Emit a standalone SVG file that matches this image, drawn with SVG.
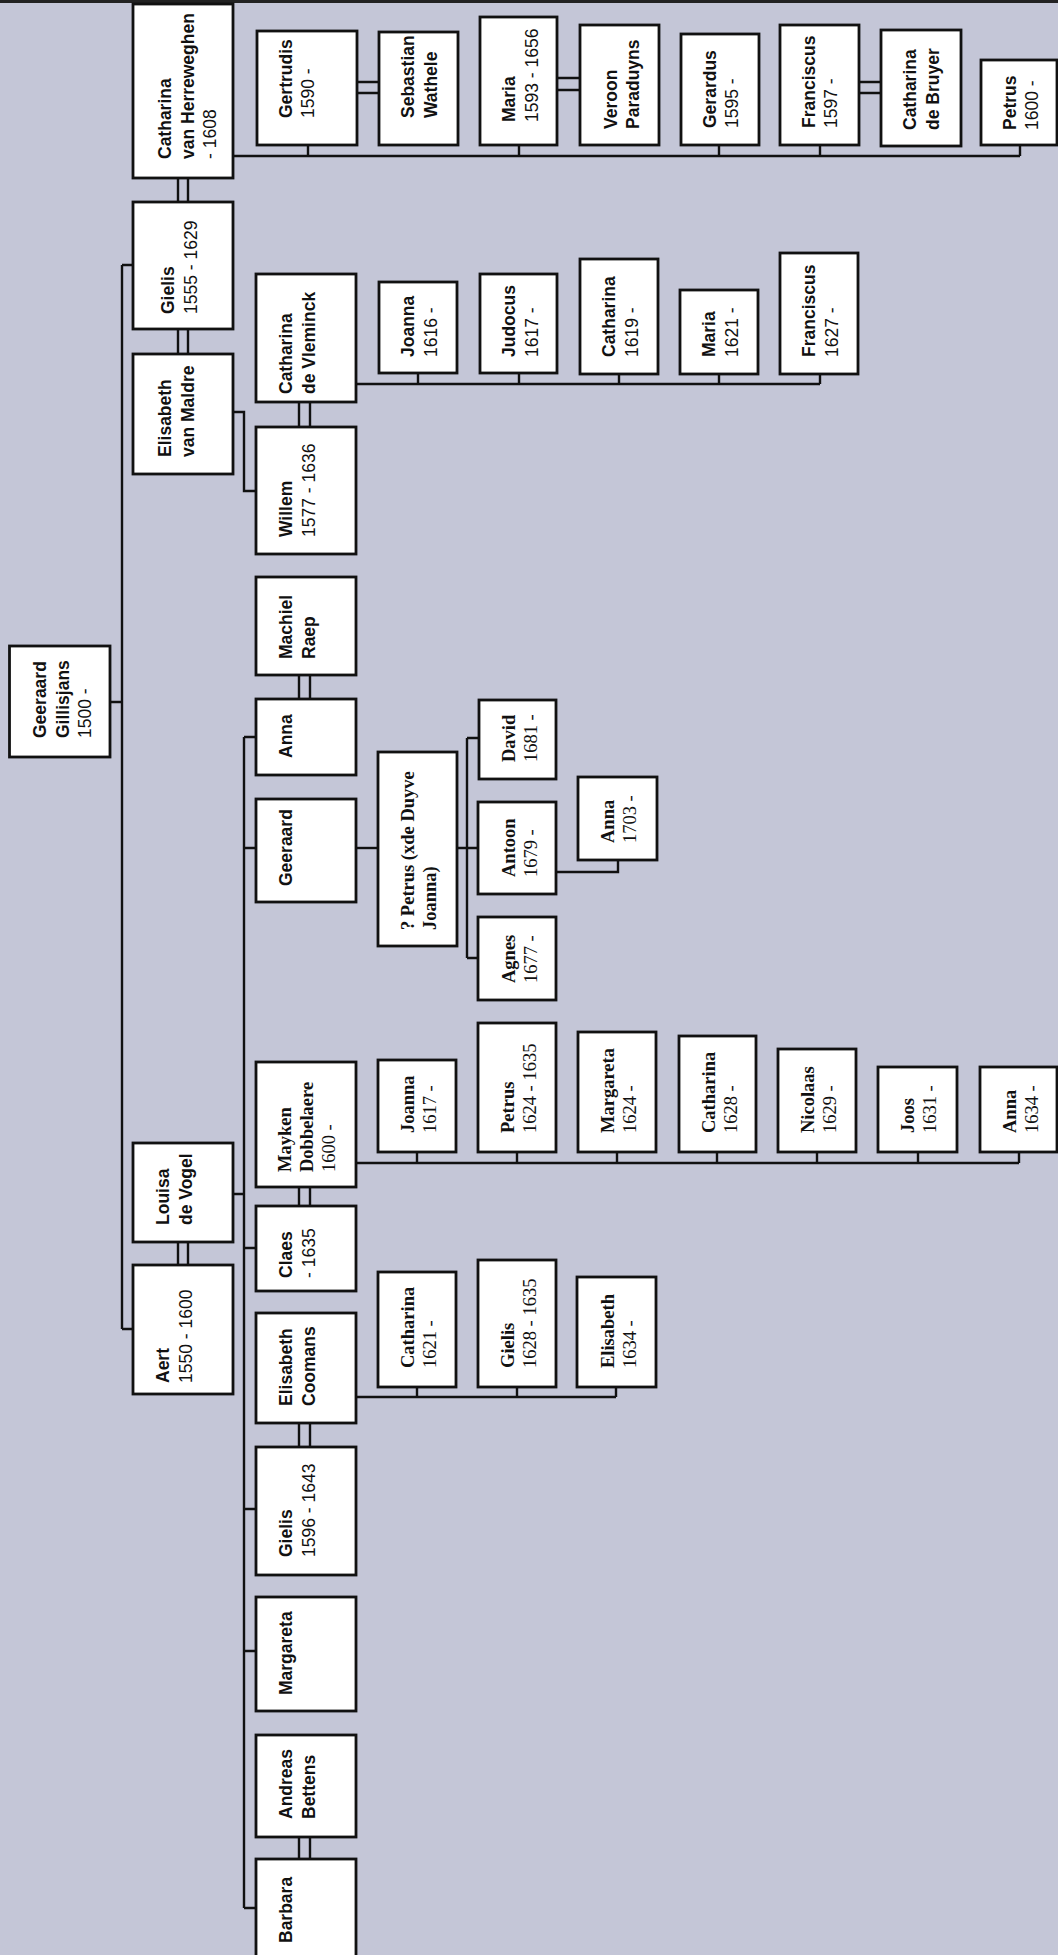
<svg xmlns="http://www.w3.org/2000/svg" width="1058" height="1955" viewBox="0 0 1058 1955">
<style>
.bg{fill:#c4c6d7}
.box{fill:#fff;stroke:#111;stroke-width:2.8}
.ln{stroke:#111;stroke-width:2.4;fill:none}
.t{font-family:"Liberation Sans",Arial,sans-serif;font-size:17.5px;fill:#111}
.s{font-family:"Liberation Serif","Times New Roman",serif;font-size:18.5px;fill:#111}
.b{font-weight:bold}
</style>
<rect class="bg" x="0" y="0" width="1058" height="1955"/>
<rect x="0" y="0" width="1058" height="3" fill="#222"/>

<g id="connectors">
  <!-- trunk from Geeraard Gillisjans -->
  <path class="ln" d="M110,702 H122 M122,265 V1329 M122,265 H133 M122,1329 H133"/>
  <!-- marriages gen2 -->
  <path class="ln" d="M178,178 V202 M188,178 V202"/>
  <path class="ln" d="M178,329 V354 M188,329 V354"/>
  <path class="ln" d="M178,1242 V1265 M188,1242 V1265"/>
  <!-- Catharina vH + Gielis children -->
  <path class="ln" d="M233,156 H1020 M308,145 V156 M519,145 V156 M719,145 V156 M820,145 V156 M1020,145 V156"/>
  <path class="ln" d="M357,82 H379 M357,93 H379"/>
  <path class="ln" d="M557,78 H580 M557,90 H580"/>
  <path class="ln" d="M859,82 H881 M859,93 H881"/>
  <!-- Gielis + Elisabeth van Maldre -> Willem -->
  <path class="ln" d="M233,412 H244 V491 H256"/>
  <path class="ln" d="M299,402 V427 M310,402 V427"/>
  <!-- Willem + Catharina de Vleminck children -->
  <path class="ln" d="M356,384 H820 M418,373 V384 M519,373 V384 M619,374 V384 M719,374 V384 M820,374 V384"/>
  <!-- Aert + Louisa children -->
  <path class="ln" d="M233,1194 H244 M244,737 V1908 M244,737 H256 M244,848 H256 M244,1248 H256 M244,1509 H256 M244,1651 H256 M244,1908 H256"/>
  <path class="ln" d="M299,675 V699 M310,675 V699"/>
  <path class="ln" d="M299,1187 V1206 M310,1187 V1206"/>
  <path class="ln" d="M299,1423 V1447 M310,1423 V1447"/>
  <path class="ln" d="M299,1837 V1859 M310,1837 V1859"/>
  <!-- Geeraard -> Petrus -> children -->
  <path class="ln" d="M356,848 H378"/>
  <path class="ln" d="M457,848 H478 M467,738 V958 M467,738 H479 M467,958 H478"/>
  <path class="ln" d="M556,872 H618 V860"/>
  <!-- Mayken + Claes children -->
  <path class="ln" d="M356,1163 H1019 M417,1152 V1163 M517,1152 V1163 M617,1152 V1163 M717,1152 V1163 M817,1152 V1163 M918,1152 V1163 M1019,1152 V1163"/>
  <!-- Elisabeth Coomans + Gielis children -->
  <path class="ln" d="M356,1397 H616 M417,1387 V1397 M517,1387 V1397 M616,1387 V1397"/>
</g>

<g id="geeraard-gillisjans"><rect class="box" x="9.5" y="646" width="100.5" height="111"/>
<text class="t" transform="translate(46,738) rotate(-90)"><tspan class="b" x="0" y="0">Geeraard</tspan><tspan class="b" x="0" dy="22.5">Gillisjans</tspan><tspan x="0" dy="22.5">1500 -</tspan></text></g>

<g id="catharina-van-herreweghen"><rect class="box" x="133" y="4" width="100" height="174"/>
<text class="t" transform="translate(171,159) rotate(-90)"><tspan class="b" x="0" y="0">Catharina</tspan><tspan class="b" x="0" dy="22.5">van Herreweghen</tspan><tspan x="0" dy="22.5">- 1608</tspan></text></g>

<g id="gielis-1555"><rect class="box" x="133" y="202" width="100" height="127"/>
<text class="t" transform="translate(174,314) rotate(-90)"><tspan class="b" x="0" y="0">Gielis</tspan><tspan x="0" dy="23">1555 - 1629</tspan></text></g>

<g id="elisabeth-van-maldre"><rect class="box" x="133" y="354" width="100" height="120"/>
<text class="t" transform="translate(171,457) rotate(-90)"><tspan class="b" x="0" y="0">Elisabeth</tspan><tspan class="b" x="0" dy="22.5">van Maldre</tspan></text></g>

<g id="louisa-de-vogel"><rect class="box" x="133" y="1143" width="100" height="99"/>
<text class="t" transform="translate(169,1225) rotate(-90)"><tspan class="b" x="0" y="0">Louisa</tspan><tspan class="b" x="0" dy="22.5">de Vogel</tspan></text></g>

<g id="aert"><rect class="box" x="133" y="1265" width="100" height="129"/>
<text class="t" transform="translate(169,1383) rotate(-90)"><tspan class="b" x="0" y="0">Aert</tspan><tspan x="0" dy="22.5">1550 - 1600</tspan></text></g>

<g id="catharina-de-vleminck"><rect class="box" x="256" y="274" width="100" height="128"/>
<text class="t" transform="translate(292,394) rotate(-90)"><tspan class="b" x="0" y="0">Catharina</tspan><tspan class="b" x="0" dy="22.5">de Vleminck</tspan></text></g>

<g id="willem"><rect class="box" x="256" y="427" width="100" height="127"/>
<text class="t" transform="translate(292,537) rotate(-90)"><tspan class="b" x="0" y="0">Willem</tspan><tspan x="0" dy="23">1577 - 1636</tspan></text></g>

<g id="machiel-raep"><rect class="box" x="256" y="577" width="100" height="98"/>
<text class="t" transform="translate(292,659) rotate(-90)"><tspan class="b" x="0" y="0">Machiel</tspan><tspan class="b" x="0" dy="22.5">Raep</tspan></text></g>

<g id="anna"><rect class="box" x="256" y="699" width="100" height="76"/>
<text class="t b" transform="translate(292,758) rotate(-90)">Anna</text></g>

<g id="geeraard"><rect class="box" x="256" y="799" width="100" height="103"/>
<text class="t b" transform="translate(292,886) rotate(-90)">Geeraard</text></g>

<g id="mayken-dobbelaere"><rect class="box" x="256" y="1062" width="100" height="125"/>
<text class="s" transform="translate(291,1172) rotate(-90)"><tspan class="b" x="0" y="0">Mayken</tspan><tspan class="b" x="0" dy="22">Dobbelaere</tspan><tspan x="0" dy="22">1600 -</tspan></text></g>

<g id="claes"><rect class="box" x="256" y="1206" width="100" height="85"/>
<text class="t" transform="translate(292,1278) rotate(-90)"><tspan class="b" x="0" y="0">Claes</tspan><tspan x="0" dy="22.5">- 1635</tspan></text></g>

<g id="elisabeth-coomans"><rect class="box" x="256" y="1313" width="100" height="110"/>
<text class="t" transform="translate(292,1406) rotate(-90)"><tspan class="b" x="0" y="0">Elisabeth</tspan><tspan class="b" x="0" dy="22.5">Coomans</tspan></text></g>

<g id="gielis-1596"><rect class="box" x="256" y="1447" width="100" height="128"/>
<text class="t" transform="translate(292,1557) rotate(-90)"><tspan class="b" x="0" y="0">Gielis</tspan><tspan x="0" dy="22.5">1596 - 1643</tspan></text></g>

<g id="margareta"><rect class="box" x="256" y="1597" width="100" height="114"/>
<text class="t b" transform="translate(292,1695) rotate(-90)">Margareta</text></g>

<g id="andreas-bettens"><rect class="box" x="256" y="1735" width="100" height="102"/>
<text class="t" transform="translate(292,1819) rotate(-90)"><tspan class="b" x="0" y="0">Andreas</tspan><tspan class="b" x="0" dy="22.5">Bettens</tspan></text></g>

<g id="barbara"><rect class="box" x="256" y="1859" width="100" height="106"/>
<text class="t b" transform="translate(292,1943) rotate(-90)">Barbara</text></g>

<g id="gertrudis"><rect class="box" x="257" y="31" width="100" height="114"/>
<text class="t" transform="translate(292,118) rotate(-90)"><tspan class="b" x="0" y="0">Gertrudis</tspan><tspan x="0" dy="22">1590 -</tspan></text></g>

<g id="sebastian-wathele"><rect class="box" x="379" y="32" width="79" height="113"/>
<text class="t" transform="translate(414,118) rotate(-90)"><tspan class="b" x="0" y="0">Sebastian</tspan><tspan class="b" x="0" dy="22.5">Wathele</tspan></text></g>

<g id="maria-1593"><rect class="box" x="480" y="17" width="77" height="128"/>
<text class="t" transform="translate(515,122) rotate(-90)"><tspan class="b" x="0" y="0">Maria</tspan><tspan x="0" dy="22.5">1593 - 1656</tspan></text></g>

<g id="veroon-paraduyns"><rect class="box" x="580" y="25" width="79" height="120"/>
<text class="t" transform="translate(617,129) rotate(-90)"><tspan class="b" x="0" y="0">Veroon</tspan><tspan class="b" x="0" dy="22">Paraduyns</tspan></text></g>

<g id="gerardus"><rect class="box" x="681" y="34" width="78" height="111"/>
<text class="t" transform="translate(716,128) rotate(-90)"><tspan class="b" x="0" y="0">Gerardus</tspan><tspan x="0" dy="22">1595 -</tspan></text></g>

<g id="franciscus-1597"><rect class="box" x="780" y="25" width="79" height="120"/>
<text class="t" transform="translate(815,128) rotate(-90)"><tspan class="b" x="0" y="0">Franciscus</tspan><tspan x="0" dy="22">1597 -</tspan></text></g>

<g id="catharina-de-bruyer"><rect class="box" x="881" y="30" width="80" height="116"/>
<text class="t" transform="translate(916,130) rotate(-90)"><tspan class="b" x="0" y="0">Catharina</tspan><tspan class="b" x="0" dy="22.5">de Bruyer</tspan></text></g>

<g id="petrus-1600"><rect class="box" x="981" y="60" width="76" height="85"/>
<text class="t" transform="translate(1016,130) rotate(-90)"><tspan class="b" x="0" y="0">Petrus</tspan><tspan x="0" dy="22">1600 -</tspan></text></g>

<g id="joanna-1616"><rect class="box" x="379" y="282" width="78" height="91"/>
<text class="t" transform="translate(414,357) rotate(-90)"><tspan class="b" x="0" y="0">Joanna</tspan><tspan x="0" dy="22.5">1616 -</tspan></text></g>

<g id="judocus"><rect class="box" x="480" y="274" width="77" height="99"/>
<text class="t" transform="translate(515,357) rotate(-90)"><tspan class="b" x="0" y="0">Judocus</tspan><tspan x="0" dy="22.5">1617 -</tspan></text></g>

<g id="catharina-1619"><rect class="box" x="580" y="259" width="78" height="115"/>
<text class="t" transform="translate(615,357) rotate(-90)"><tspan class="b" x="0" y="0">Catharina</tspan><tspan x="0" dy="22.5">1619 -</tspan></text></g>

<g id="maria-1621"><rect class="box" x="680" y="290" width="78" height="84"/>
<text class="t" transform="translate(715,357) rotate(-90)"><tspan class="b" x="0" y="0">Maria</tspan><tspan x="0" dy="22.5">1621 -</tspan></text></g>

<g id="franciscus-1627"><rect class="box" x="780" y="253" width="78" height="121"/>
<text class="t" transform="translate(815,357) rotate(-90)"><tspan class="b" x="0" y="0">Franciscus</tspan><tspan x="0" dy="22.5">1627 -</tspan></text></g>

<g id="petrus-xde-duyve"><rect class="box" x="378" y="752" width="79" height="194"/>
<text class="s" transform="translate(414,930) rotate(-90)"><tspan class="b" x="0" y="0">? Petrus (xde Duyve</tspan><tspan class="b" x="0" dy="22">Joanna)</tspan></text></g>

<g id="david"><rect class="box" x="479" y="700" width="77" height="79"/>
<text class="s" transform="translate(515,762) rotate(-90)"><tspan class="b" x="0" y="0">David</tspan><tspan x="0" dy="22">1681 -</tspan></text></g>

<g id="antoon"><rect class="box" x="478" y="802" width="78" height="92"/>
<text class="s" transform="translate(515,877) rotate(-90)"><tspan class="b" x="0" y="0">Antoon</tspan><tspan x="0" dy="22">1679 -</tspan></text></g>

<g id="agnes"><rect class="box" x="478" y="917" width="78" height="83"/>
<text class="s" transform="translate(515,983) rotate(-90)"><tspan class="b" x="0" y="0">Agnes</tspan><tspan x="0" dy="22">1677 -</tspan></text></g>

<g id="anna-1703"><rect class="box" x="578" y="777" width="79" height="83"/>
<text class="s" transform="translate(614,843) rotate(-90)"><tspan class="b" x="0" y="0">Anna</tspan><tspan x="0" dy="22">1703 -</tspan></text></g>

<g id="joanna-1617"><rect class="box" x="378" y="1060" width="78" height="92"/>
<text class="s" transform="translate(414,1133) rotate(-90)"><tspan class="b" x="0" y="0">Joanna</tspan><tspan x="0" dy="22">1617 -</tspan></text></g>

<g id="petrus-1624"><rect class="box" x="478" y="1023" width="78" height="129"/>
<text class="s" transform="translate(514,1133) rotate(-90)"><tspan class="b" x="0" y="0">Petrus</tspan><tspan x="0" dy="22">1624 - 1635</tspan></text></g>

<g id="margareta-1624"><rect class="box" x="578" y="1032" width="78" height="120"/>
<text class="s" transform="translate(614,1133) rotate(-90)"><tspan class="b" x="0" y="0">Margareta</tspan><tspan x="0" dy="22">1624 -</tspan></text></g>

<g id="catharina-1628"><rect class="box" x="679" y="1036" width="77" height="116"/>
<text class="s" transform="translate(715,1133) rotate(-90)"><tspan class="b" x="0" y="0">Catharina</tspan><tspan x="0" dy="22">1628 -</tspan></text></g>

<g id="nicolaas"><rect class="box" x="778" y="1049" width="78" height="103"/>
<text class="s" transform="translate(814,1133) rotate(-90)"><tspan class="b" x="0" y="0">Nicolaas</tspan><tspan x="0" dy="22">1629 -</tspan></text></g>

<g id="joos"><rect class="box" x="878" y="1067" width="79" height="85"/>
<text class="s" transform="translate(914,1133) rotate(-90)"><tspan class="b" x="0" y="0">Joos</tspan><tspan x="0" dy="22">1631 -</tspan></text></g>

<g id="anna-1634"><rect class="box" x="980" y="1067" width="77" height="85"/>
<text class="s" transform="translate(1016,1133) rotate(-90)"><tspan class="b" x="0" y="0">Anna</tspan><tspan x="0" dy="22">1634 -</tspan></text></g>

<g id="catharina-1621"><rect class="box" x="378" y="1272" width="78" height="115"/>
<text class="s" transform="translate(414,1368) rotate(-90)"><tspan class="b" x="0" y="0">Catharina</tspan><tspan x="0" dy="22">1621 -</tspan></text></g>

<g id="gielis-1628"><rect class="box" x="478" y="1260" width="78" height="127"/>
<text class="s" transform="translate(514,1368) rotate(-90)"><tspan class="b" x="0" y="0">Gielis</tspan><tspan x="0" dy="22">1628 - 1635</tspan></text></g>

<g id="elisabeth-1634"><rect class="box" x="577" y="1277" width="79" height="110"/>
<text class="s" transform="translate(614,1368) rotate(-90)"><tspan class="b" x="0" y="0">Elisabeth</tspan><tspan x="0" dy="22">1634 -</tspan></text></g>
</svg>
